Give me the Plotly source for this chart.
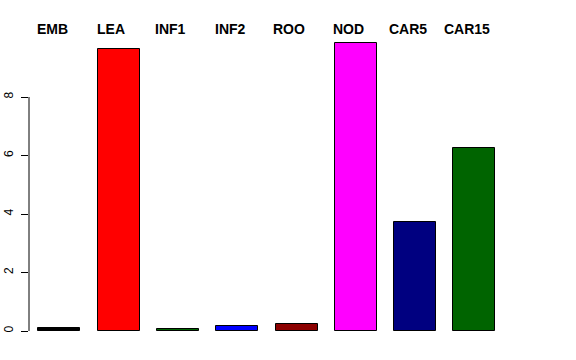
import plotly.graph_objects as go

categories = ["EMB", "LEA", "INF1", "INF2", "ROO", "NOD", "CAR5", "CAR15"]
values = [0.09, 9.64, 0.06, 0.17, 0.25, 9.85, 3.73, 6.26]
colors = ["#000000", "#FF0000", "#006400", "#0000FF", "#8B0000", "#FF00FF", "#000080", "#006400"]
y_ticks = [0, 2, 4, 6, 8]

xpos = list(range(len(categories)))

fig = go.Figure()
fig.add_trace(go.Bar(
    x=xpos, y=values, width=0.708,
    marker=dict(color=colors, line=dict(color="#000000", width=1)),
    showlegend=False, hoverinfo="skip",
))

for i, c in enumerate(categories):
    fig.add_annotation(x=i - 0.12, y=1.0378, xref="x", yref="paper", text="<b>" + c + "</b>",
                       showarrow=False, xanchor="center", yanchor="middle",
                       font=dict(family="Liberation Sans, Arial", size=14, color="#000000"))

fig.add_shape(type="line", xref="paper", yref="y", x0=0, x1=0, y0=0, y1=8,
              line=dict(color="#000000", width=1))

fig.update_layout(
    width=576, height=360,
    margin=dict(l=29, r=29, t=40, b=29, autoexpand=False),
    paper_bgcolor="white", plot_bgcolor="white",
    bargap=0,
    xaxis=dict(range=[-0.511, 8.224], visible=False, showgrid=False, zeroline=False,
               automargin=False),
    yaxis=dict(range=[0, 9.949], tickvals=y_ticks, ticktext=[str(v) for v in y_ticks],
               ticks="outside", ticklen=7, tickcolor="#000000", tickwidth=1,
               tickangle=-90, showgrid=False, zeroline=False, showline=False,
               automargin=False, ticklabelstandoff=3,
               tickfont=dict(family="Liberation Sans, Arial", size=12, color="#000000")),
)

fig.write_html("out.html", config={"displayModeBar": False},
               post_script="document.body.style.margin='0';")
